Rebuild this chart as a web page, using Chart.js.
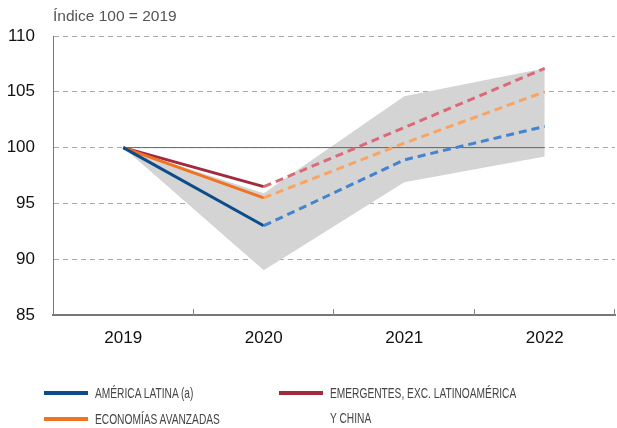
<!DOCTYPE html>
<html>
<head>
<meta charset="utf-8">
<script src="https://cdn.jsdelivr.net/npm/chart.js@4"></script>
<style>
  body { margin: 0; background: #fff; }
  #wrap { position: relative; width: 617px; height: 428px; }
  #title { position: absolute; left: 53px; top: 7px; font: 15.5px "Liberation Sans", Arial, sans-serif; color: #555; }
  .leg { position: absolute; height: 52px; }
  .leg i { position: absolute; left: -51px; top: 11px; width: 44px; height: 4px; }
  .leg span { display: block; font: 15px "Liberation Sans", Arial, sans-serif; color: #444; line-height: 25px;
              transform: scaleX(0.68); transform-origin: left top; white-space: nowrap; }
</style>
</head>
<body>
<div id="wrap">
  <canvas id="chart" width="617" height="428"></canvas>
  <div id="title">Índice 100 = 2019</div>
  <div class="leg" style="left:95px; top:380px"><i style="background:#0d4c8a"></i><span>AMÉRICA LATINA (a)</span></div>
  <div class="leg" style="left:95px; top:406px"><i style="background:#f07323"></i><span>ECONOMÍAS AVANZADAS</span></div>
  <div class="leg" style="left:330px; top:380px"><i style="background:#a22a3e"></i><span>EMERGENTES, EXC. LATINOAMÉRICA</span><span>Y CHINA</span></div>
</div>
<script>
const years = ["2019", "2020", "2021", "2022"];
const americaLatina = [100, 93.0, 98.9, 101.9];
const avanzadas = [100, 95.5, 100.4, 105.0];
const emergentes = [100, 96.5, 101.8, 107.1];
const bandUpper = [100, 95.9, 104.6, 107.1];
const bandLower = [100, 89.0, 96.9, 99.2];
const reference = [100, 100, 100, 100];
const yTicks = [85, 90, 95, 100, 105, 110];

// first segment is observed (solid), the rest are forecasts (dashed, lighter)
function series(label, data, solid, dashed) {
  return {
    label: label,
    data: data,
    borderColor: solid,
    borderWidth: 3,
    pointRadius: 0,
    tension: 0,
    fill: false,
    order: 1,
    segment: {
      borderColor: ctx => ctx.p0DataIndex >= 1 ? dashed : solid,
      borderDash: ctx => ctx.p0DataIndex >= 1 ? [8, 5] : []
    }
  };
}

// small tick marks pointing up into the plot, between the categories
const innerTicks = {
  id: "innerTicks",
  afterDraw(chart) {
    const x = chart.scales.x;
    const c = chart.ctx;
    c.save();
    c.strokeStyle = "#888";
    c.lineWidth = 1;
    for (let i = 1; i <= years.length; i++) {
      const px = Math.round(x.left + (x.right - x.left) * i / years.length) - 0.5;
      c.beginPath();
      c.moveTo(px, x.top - 6);
      c.lineTo(px, x.top);
      c.stroke();
    }
    c.restore();
  }
};

new Chart(document.getElementById("chart"), {
  type: "line",
  data: {
    labels: years,
    datasets: [
      series("AMÉRICA LATINA (a)", americaLatina, "#0d4c8a", "#4383cf"),
      series("ECONOMÍAS AVANZADAS", avanzadas, "#f07323", "#f9a463"),
      series("EMERGENTES, EXC. LATINOAMÉRICA Y CHINA", emergentes, "#a22a3e", "#d96b78"),
      { label: "ref", data: reference, borderColor: "#666", borderWidth: 1, pointRadius: 0, fill: false, order: 5 },
      { label: "upper", data: bandUpper, borderWidth: 0, borderColor: "rgba(0,0,0,0)", pointRadius: 0, fill: false, order: 10 },
      { label: "lower", data: bandLower, borderWidth: 0, borderColor: "rgba(0,0,0,0)", pointRadius: 0,
        fill: { target: "-1" }, backgroundColor: "#d3d4d3", order: 10 }
    ]
  },
  options: {
    responsive: false,
    animation: false,
    layout: { padding: { left: 0, right: 2, top: 36, bottom: 73 } },
    plugins: { legend: { display: false }, tooltip: { enabled: false } },
    scales: {
      x: {
        offset: true,
        afterFit: s => { s.height = 40; },
        grid: { display: false, drawTicks: false },
        border: { color: "#777", width: 2 },
        ticks: { color: "#111", padding: 13, font: { family: "Liberation Sans", size: 17 } }
      },
      y: {
        min: 85,
        max: 110,
        afterFit: s => { s.width = 53; },
        afterBuildTicks: s => { s.ticks = yTicks.map(v => ({ value: v })); },
        grid: { color: "#a8a8a8", drawTicks: false },
        border: { color: "#777", width: 1, dash: [5, 4] },
        ticks: { color: "#111", padding: 18, font: { family: "Liberation Sans", size: 17 } }
      }
    }
  },
  plugins: [innerTicks]
});
</script>
</body>
</html>
